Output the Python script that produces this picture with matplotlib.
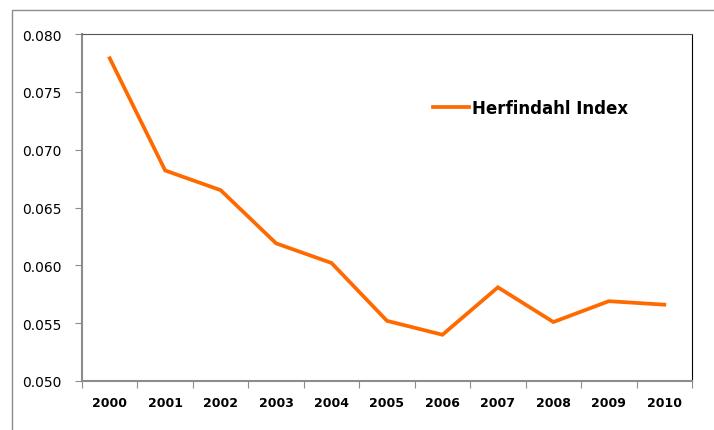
import matplotlib.pyplot as plt
from matplotlib.patches import Rectangle

years = ['2000', '2001', '2002', '2003', '2004', '2005',
         '2006', '2007', '2008', '2009', '2010']
herfindahl = [0.0779, 0.0682, 0.0665, 0.0619, 0.0602, 0.0552,
              0.0540, 0.0581, 0.0551, 0.0569, 0.0566]

W, H = 714, 431
fig = plt.figure(figsize=(W / 100, H / 100), dpi=100)
plt.rcParams['font.family'] = ['DejaVu Sans']

# outer chart border (cut off at right and bottom)
fig.patches.append(Rectangle((12 / W, -0.1), 1.2, (H - 11) / H + 0.1,
                             transform=fig.transFigure, fill=False,
                             edgecolor='#8c8c8c', linewidth=1))

ax = fig.add_axes([82 / W, 1 - 382 / H, 610 / W, (382 - 35) / H])
x = range(len(years))
ax.plot(x, herfindahl, color='#ff6a00', linewidth=2.7, label='Herfindahl Index',
        solid_joinstyle='miter')

ax.set_xlim(-0.5, len(years) - 0.5)
ax.set_ylim(0.050, 0.080)
ax.set_yticks([0.050, 0.055, 0.060, 0.065, 0.070, 0.075, 0.080])
ax.set_yticklabels([f'{v:.3f}' for v in ax.get_yticks()], fontsize=10)
ax.set_xticks([i - 0.5 for i in range(len(years) + 1)], minor=False)
ax.set_xticklabels([])
ax.set_xticks(list(x), minor=True)
ax.set_xticklabels(years, minor=True, fontsize=9, fontweight='bold')
ax.tick_params(axis='x', which='minor', length=0, pad=11)
ax.tick_params(axis='x', which='major', direction='out', length=5, color='#8c8c8c')
ax.tick_params(axis='y', direction='out', length=5, color='#8c8c8c', pad=10)

for side in ['left', 'bottom']:
    ax.spines[side].set_color('#8c8c8c')
    ax.spines[side].set_linewidth(1.5)
ax.spines['top'].set_color('#555555')
ax.spines['right'].set_color('#000000')

ax.legend(loc='upper left', bbox_to_anchor=(0.55, 0.855), frameon=False,
          handlelength=2.2, handletextpad=0.2,
          prop={'size': 12, 'weight': 'bold'})

fig.savefig('out.png', dpi=100)
